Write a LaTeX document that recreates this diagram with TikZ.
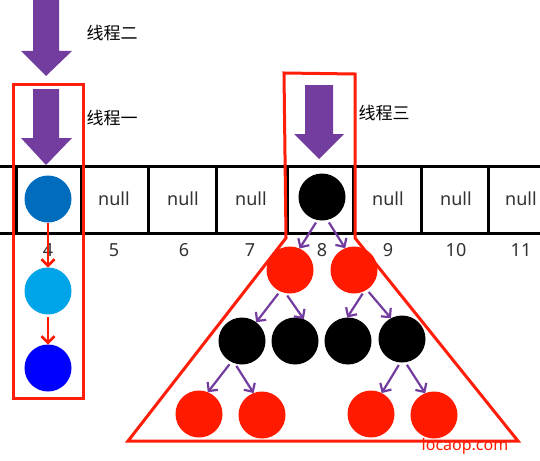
\documentclass[tikz,border=0pt]{standalone}
\usepackage{fontspec}
\setmainfont{Noto Sans}
\newfontfamily\cjk{Noto Sans CJK SC}
\usetikzlibrary{arrows.meta}
\definecolor{tpurple}{RGB}{115,61,160}
\definecolor{tred}{RGB}{255,26,0}
\definecolor{bred}{RGB}{255,30,10}
\definecolor{nblue}{RGB}{0,108,190}
\definecolor{ncyan}{RGB}{0,164,232}
\definecolor{nbluetwo}{RGB}{0,0,255}
\definecolor{tgray}{RGB}{50,50,50}
\begin{document}
\begin{tikzpicture}[x=1pt,y=-1pt,
 ball/.style={circle,minimum size=47pt,inner sep=0pt,outer sep=0pt},
 redball/.style={ball,fill=tred},
 blackball/.style={ball,fill=black},
 celltext/.style={text=tgray,font=\fontsize{18}{18}\selectfont},
 threadlabel/.style={font=\cjk\fontsize{17}{17}\selectfont,anchor=west},
 blockarrow/.style={fill=tpurple},
 purplearrow/.style={draw=tpurple,line width=2.2pt,-{Straight Barb[length=6.5pt,width=13pt]},shorten <=3pt},
 redarrow/.style={draw=tred,line width=2.6pt,-{Straight Barb[length=6.5pt,width=13pt]}},
 redframe/.style={draw=bred,line width=3pt},
 tableline/.style={line width=3pt}]
\useasboundingbox (0,0) rectangle (540,460);
\fill[white] (0,0) rectangle (540,460);

% table
\draw[tableline] (0,166) -- (540,166) (0,233) -- (540,233);
\foreach \x in {16,81,148,216,287,353,421,488} \draw[tableline] (\x,166) -- (\x,233);

\node[celltext] (n5) at (114,199) {null};
\node[celltext] (n6) at (183,199) {null};
\node[celltext] (n7) at (251,199) {null};
\node[celltext] (n9) at (388,199) {null};
\node[celltext] (n10) at (456,199) {null};
\node[celltext] (n11) at (521,199) {null};

\node[celltext] (i4) at (48,250) {4};
\node[celltext] (i5) at (114,250) {5};
\node[celltext] (i6) at (184,250) {6};
\node[celltext] (i7) at (250,250) {7};
\node[celltext] (i8) at (322,250) {8};
\node[celltext] (i9) at (388,250) {9};
\node[celltext] (i10) at (456,250) {10};
\node[celltext] (i11) at (521,250) {11};

% block arrows
\fill[blockarrow] (33,0) -- (59,0) -- (59,51) -- (72,51) -- (46,76) -- (21,51) -- (33,51) -- cycle;
\fill[blockarrow] (33,89) -- (59,89) -- (59,138) -- (72,138) -- (46,165) -- (21,138) -- (33,138) -- cycle;
\fill[blockarrow] (305,85) -- (333,85) -- (333,134) -- (344,134) -- (319,159) -- (294,134) -- (305,134) -- cycle;

\node[threadlabel] (t2) at (83,33) {线程二};
\node[threadlabel] (t1) at (83,118) {线程一};
\node[threadlabel] (t3) at (355,113) {线程三};

% red frames
\draw[redframe] (13,84) rectangle (83,398);
\draw[redframe] (284,73) -- (355,74) -- (355,238) -- (518,441) -- (128,441) -- (286,238) -- cycle;

% linked list
\node[ball,fill=nblue] (a4) at (48,199) {};
\node[ball,fill=ncyan] (c1) at (48,291) {};
\node[ball,fill=nbluetwo] (c2) at (48,368) {};
\draw[redarrow] (a4.south) -- (c1.north);
\draw[redarrow] (c1) ++(0,26) coordinate (c1b) (c1b) -- (c2.north);

% tree
\node[blackball] (b8) at (322,197) {};
\node[redball] (r1) at (290,270) {};
\node[redball] (r2) at (354,270) {};
\node[blackball] (k1) at (242,341) {};
\node[blackball] (k2) at (295,341) {};
\node[blackball] (k3) at (348,341) {};
\node[blackball] (k4) at (402,339) {};
\node[redball] (l1) at (199,414) {};
\node[redball] (l2) at (262,415) {};
\node[redball] (l3) at (371,414) {};
\node[redball] (l4) at (434,415) {};

\draw[purplearrow] (b8.-101) -- (r1.66);
\draw[purplearrow] (b8.-77) -- (r2.112);
\draw[purplearrow] (r1.-115) -- (k1.53);
\draw[purplearrow] (r1.-101) -- (k2.68);
\draw[purplearrow] (r2.-64) -- (k3.92);
\draw[purplearrow] (r2.-57) -- (k4.118);
\draw[purplearrow] (k1.-117) -- (l1.68);
\draw[purplearrow] (k1.-108) -- (l2.111);
\draw[purplearrow] (k4.-94) -- (l3.63);
\draw[purplearrow] (k4.-82) -- (l4.112);

\node[text=tred,font=\fontsize{16}{16}\selectfont] (wm) at (465,446) {locaop.com};
\end{tikzpicture}
\end{document}
